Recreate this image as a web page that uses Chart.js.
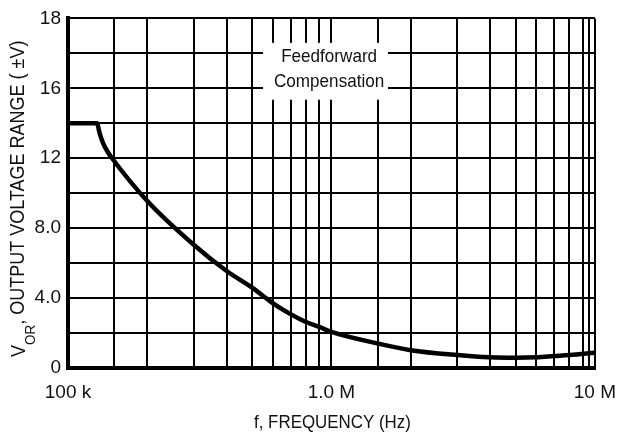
<!DOCTYPE html>
<html>
<head>
<meta charset="utf-8">
<script src="https://cdn.jsdelivr.net/npm/chart.js@4.4.1/dist/chart.umd.min.js"></script>
<style>
    html, body { margin: 0; padding: 0; background: #fff; }
    #wrap { width: 629px; height: 436px; }
</style>
</head>
<body>
<div id="wrap"><canvas id="vor-chart" width="629" height="436"></canvas></div>
<script>
// frequency (Hz) and output voltage range (±V)
var freqHz = [100e3, 129e3, 130e3, 131e3, 133e3, 136e3, 141e3, 147e3, 200e3, 300e3, 400e3, 500e3, 600e3, 714e3, 800e3, 900e3,
              1e6, 1.5e6, 2e6, 3e6, 4e6, 5e6, 6e6, 7e6, 8e6, 10e6];
var vorVolts = [14, 14, 13.85, 13.6, 13.25, 12.85, 12.4, 12.0, 9.55, 7.05, 5.55, 4.6, 3.7, 3.01, 2.63, 2.35,
                2.06, 1.4, 1.02, 0.74, 0.61, 0.585, 0.61, 0.68, 0.74, 0.87];

// grid lines on the log axis and the labels printed under them
var xGrid = [1e5, 1.5e5, 2e5, 3e5, 4e5, 5e5, 6e5, 7e5, 8e5, 9e5,
             1e6, 1.5e6, 2e6, 3e6, 4e6, 5e6, 6e6, 7e6, 8e6, 9e6, 9.5e6, 1e7];
var xTickLabels = { 100000: '100 k', 1000000: '1.0 M', 10000000: '10 M' };

// y grid every 2 V; the top label is printed as "18" on the original
var yTickLabels = { 0: '0', 4: '4.0', 8: '8.0', 12: '12', 16: '16', 20: '18' };

var noteLines = ['Feedforward', 'Compensation'];
var xTitle = 'f, FREQUENCY (Hz)';

var FONT = '"Liberation Sans Narrow", "Arial Narrow", "Liberation Sans", Arial, sans-serif';

var points = [];
for (var i in freqHz) {
    points.push({ x: freqHz[i], y: vorVolts[i] });
}

// narrow-ish text: squeeze horizontally around (x, y)
function squeezedText(c, text, x, y, sx) {
    c.save();
    c.translate(x, y);
    c.scale(sx, 1);
    c.fillText(text, 0, 0);
    c.restore();
}

// white box with the "Feedforward Compensation" note, drawn over the grid
var notePlugin = {
    id: 'note',
    beforeDatasetsDraw: function(chart) {
        var c = chart.ctx;
        var xs = chart.scales.x, ys = chart.scales.y;
        var x1 = xs.getPixelForValue(5.5e5), x2 = xs.getPixelForValue(1.64e6);
        var y1 = ys.getPixelForValue(18.6), y2 = ys.getPixelForValue(15.35);
        c.save();
        c.fillStyle = '#fff';
        c.fillRect(x1, y1, x2 - x1, y2 - y1);
        c.fillStyle = '#111';
        c.font = '19px ' + FONT;
        c.textAlign = 'center';
        c.textBaseline = 'middle';
        var cx = xs.getPixelForValue(9.8e5);
        squeezedText(c, noteLines[0], cx, ys.getPixelForValue(17.8), 0.9);
        squeezedText(c, noteLines[1], cx, ys.getPixelForValue(16.4), 0.9);
        c.restore();
    }
};

// axis titles; y one is rotated and carries the "OR" subscript
var titlePlugin = {
    id: 'titles',
    afterDraw: function(chart) {
        var c = chart.ctx;
        var xs = chart.scales.x;
        c.save();
        c.fillStyle = '#111';
        c.font = '19px ' + FONT;
        c.textAlign = 'center';
        c.textBaseline = 'alphabetic';
        squeezedText(c, xTitle, (xs.left + xs.right) / 2 + 1, 428, 0.89);
        c.restore();

        c.save();
        c.translate(24, 357);
        c.rotate(-Math.PI / 2);
        c.scale(0.9, 1);
        c.fillStyle = '#111';
        c.textAlign = 'left';
        c.textBaseline = 'alphabetic';
        c.font = '20px ' + FONT;
        c.fillText('V', 0, 1);
        var w = c.measureText('V').width;
        c.font = '15px ' + FONT;
        c.fillText('OR', w, 11);
        w += c.measureText('OR').width;
        c.font = '20px ' + FONT;
        c.fillText(', OUTPUT VOLTAGE RANGE ( \u00B1V)', w, 0);
        c.restore();
    }
};

var ctx = document.getElementById('vor-chart');

var vorChart = new Chart(ctx, {
    type: 'line',
    data: {
        datasets: [{
            data: points,
            borderColor: '#000',
            borderWidth: 4.5,
            pointRadius: 0,
            cubicInterpolationMode: 'monotone',
            fill: false
        }]
    },
    options: {
        responsive: false,
        animation: false,
        events: [],
        layout: { padding: { top: 17, right: 17, left: 0, bottom: 0 } },
        plugins: {
            legend: { display: false },
            tooltip: { enabled: false }
        },
        scales: {
            x: {
                type: 'logarithmic',
                min: 1e5,
                max: 1e7,
                afterBuildTicks: function(scale) {
                    scale.ticks = xGrid.map(function(v) { return { value: v }; });
                },
                afterFit: function(scale) {
                    scale.height = 68;
                },
                grid: { color: '#000', lineWidth: 2, drawTicks: false },
                border: { color: '#000', width: 4 },
                ticks: {
                    autoSkip: false,
                    maxRotation: 0,
                    padding: 13,
                    color: '#111',
                    font: { family: FONT, size: 19 },
                    callback: function(value) {
                        return xTickLabels[value] || '';
                    }
                }
            },
            y: {
                min: 0,
                max: 20,
                afterFit: function(scale) {
                    scale.width = 68;
                },
                grid: { color: '#000', lineWidth: 2, drawTicks: false },
                border: { color: '#000', width: 4 },
                ticks: {
                    stepSize: 2,
                    padding: 7,
                    color: '#111',
                    font: { family: FONT, size: 19 },
                    callback: function(value) {
                        return yTickLabels[value] || '';
                    }
                }
            }
        }
    },
    plugins: [notePlugin, titlePlugin]
});
</script>
</body>
</html>
